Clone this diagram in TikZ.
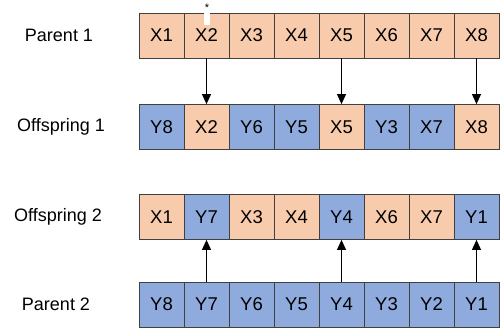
\documentclass[tikz,border=0pt]{standalone}
\usepackage{fontspec}
\setmainfont{Liberation Sans}
\usetikzlibrary{arrows.meta}
\definecolor{peach}{HTML}{F8CBAD}
\definecolor{steel}{HTML}{8FAADC}
\tikzset{
  gene/.style={draw=black!75, line width=0.8pt, minimum width=45pt, minimum height=45pt,
    inner sep=0pt, font=\fontsize{18.5}{22}\selectfont},
  rowname/.style={font=\fontsize{18}{22}\selectfont},
  pass/.style={-{Triangle[length=10pt,width=9pt]}, line width=1pt}
}
\begin{document}
\begin{tikzpicture}[x=1pt, y=-1pt]
    \useasboundingbox (0,0) rectangle (502,327);
    % row names
    \node[rowname] (lpa) at (59, 35.5) {Parent 1};
    \node[rowname] (lofa) at (61, 127) {Offspring 1};
    \node[rowname] (lofb) at (58, 217) {Offspring 2};
    \node[rowname] (lpb) at (56, 304.5) {Parent 2};
    % chromosomes
    \foreach \t/\c [count=\i] in {X1/peach, X2/peach, X3/peach, X4/peach,
        X5/peach, X6/peach, X7/peach, X8/peach}
      \node[gene, fill=\c] (pa\i) at (116.5+45*\i, 35.5) {\t};
    \foreach \t/\c [count=\i] in {Y8/steel, X2/peach, Y6/steel, Y5/steel,
        X5/peach, Y3/steel, X7/steel, X8/peach}
      \node[gene, fill=\c] (ofa\i) at (116.5+45*\i, 127) {\t};
    \foreach \t/\c [count=\i] in {X1/peach, Y7/steel, X3/peach, X4/peach,
        Y4/steel, X6/peach, X7/peach, Y1/steel}
      \node[gene, fill=\c] (ofb\i) at (116.5+45*\i, 217) {\t};
    \foreach \t/\c [count=\i] in {Y8/steel, Y7/steel, Y6/steel, Y5/steel,
        Y4/steel, Y3/steel, Y2/steel, Y1/steel}
      \node[gene, fill=\c] (pb\i) at (116.5+45*\i, 304.5) {\t};
    % crossover mark
    \node[fill=white, minimum width=6pt, minimum height=12pt, inner sep=0pt] (cut) at (207, 19) {};
    \node[font=\fontsize{11}{11}\selectfont, inner sep=0pt] (star) at (207, 7.5) {*};
    % inherited genes
    \foreach \i in {2,5,8} {
      \draw[pass] (pa\i) -- (ofa\i);
      \draw[pass] (pb\i) -- (ofb\i);
    }
\end{tikzpicture}
\end{document}
